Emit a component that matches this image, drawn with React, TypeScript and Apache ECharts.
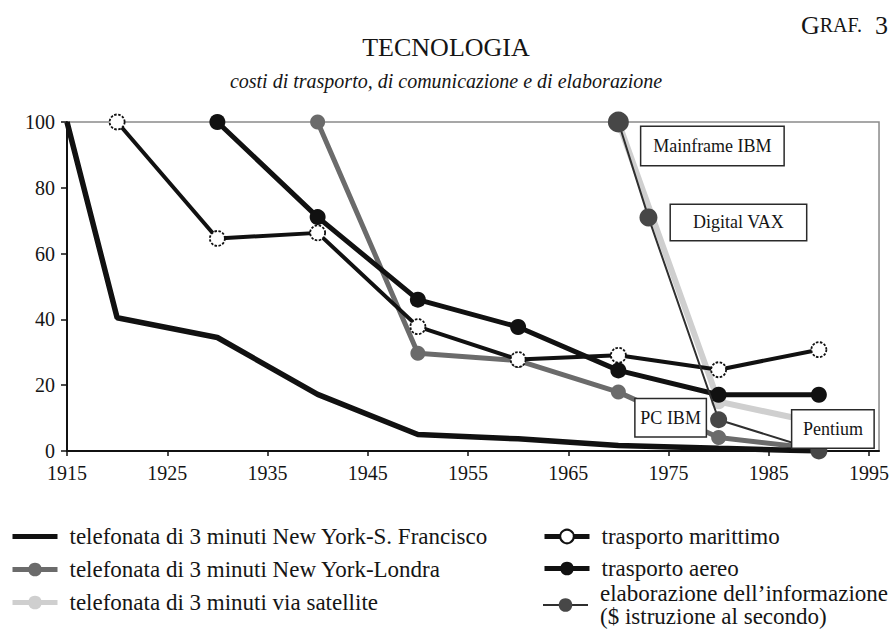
import React, { useEffect, useRef } from 'react';
import * as echarts from 'echarts';

// ---- data ----
const xTickValues = [1915, 1925, 1935, 1945, 1955, 1965, 1975, 1985, 1995];

const nySfYears = [1915, 1920, 1930, 1940, 1950, 1960, 1970, 1980, 1990];
const nySfValues = [100, 40.5, 34.5, 17.2, 5, 3.7, 1.7, 0.8, 0];

const londraYears = [1940, 1950, 1960, 1970, 1980, 1990];
const londraValues = [100, 29.7, 27.5, 17.9, 4.1, 0.6];

const satelliteYears = [1970, 1980, 1990];
const satelliteValues = [100, 15, 8.5];

const marittimoYears = [1920, 1930, 1940, 1950, 1960, 1970, 1980, 1990];
const marittimoValues = [100, 64.6, 66.3, 37.8, 27.8, 29.1, 24.7, 30.8];

const aereoYears = [1930, 1940, 1950, 1960, 1970, 1980, 1990];
const aereoValues = [100, 71.1, 46, 37.7, 24.5, 17.1, 17.1];

const elabYears = [1970, 1973, 1980, 1990];
const elabValues = [100, 71, 9.5, 0];
const elabLabels = ['Mainframe IBM', 'Digital VAX', 'PC IBM', 'Pentium'];

const seriesNames = [
  'telefonata di 3 minuti New York-S. Francisco',
  'telefonata di 3 minuti New York-Londra',
  'telefonata di 3 minuti via satellite',
  'trasporto marittimo',
  'trasporto aereo',
  'elaborazione dell\u2019informazione',
];
const elabSecondLine = '($ istruzione al secondo)';

// ---- styles ----
const FONT = "'Liberation Serif', 'DejaVu Serif', 'Times New Roman', serif";
const TEXT = '#151515';
const labelBoxes = [
  { offset: [94, 24], width: 142, height: 38, size: 21 },
  { offset: [90, 5], width: 135, height: 35, size: 18 },
  { offset: [-48, -2], width: 70, height: 37, size: 17 },
  { offset: [14, -22], width: 81, height: 37, size: 17 },
];

const pair = (xs: number[], ys: number[]) => xs.map((x, i) => [x, ys[i]]);

export default function App() {
  const ref = useRef<HTMLDivElement>(null);

  useEffect(() => {
    if (!ref.current) return;
    const chart = echarts.init(ref.current, null, { renderer: 'svg' });

    const legendText = {
      fontFamily: FONT,
      fontSize: 23,
      color: TEXT,
      lineHeight: 23,
      padding: [0, 0, 0, 7],
    };
    const legendCommon = {
      orient: 'vertical',
      padding: 0,
      itemWidth: 45,
      itemHeight: 17,
      textStyle: legendText,
    };

    const option: any = {
      animation: false,
      backgroundColor: '#ffffff',
      title: [
        {
          text: 'TECNOLOGIA',
          left: 'center',
          top: 34,
          padding: 0,
          textStyle: { fontFamily: FONT, fontSize: 26, fontWeight: 'normal', color: TEXT },
        },
        {
          text: 'costi di trasporto, di comunicazione e di elaborazione',
          left: 'center',
          top: 71,
          padding: 0,
          textStyle: { fontFamily: FONT, fontSize: 20, fontStyle: 'italic', fontWeight: 'normal', color: TEXT },
        },
      ],
      graphic: [
        {
          type: 'text',
          right: 4,
          top: 12,
          style: {
            text: '{a|G}{b|RAF.}{a|  3}',
            rich: {
              a: { fontFamily: FONT, fontSize: 26, fill: TEXT },
              b: { fontFamily: FONT, fontSize: 20, fill: TEXT },
            },
          },
        },
      ],
      grid: {
        left: 67,
        right: 10,
        top: 122,
        bottom: 178,
        show: true,
        borderColor: '#8a8a8a',
        borderWidth: 1.5,
        containLabel: false,
      },
      legend: [
        {
          ...legendCommon,
          itemGap: 10,
          data: [
            { name: seriesNames[0], itemStyle: { opacity: 0 }, lineStyle: { width: 5 } },
            { name: seriesNames[1], lineStyle: { width: 5 } },
            { name: seriesNames[2], lineStyle: { width: 5 } },
          ],
          left: 10,
          top: 525,
        },
        {
          ...legendCommon,
          itemGap: 9,
          data: [
            { name: seriesNames[3], lineStyle: { width: 5 } },
            { name: seriesNames[4], lineStyle: { width: 5 } },
          ],
          left: 542,
          top: 525,
        },
        {
          ...legendCommon,
          data: [{ name: seriesNames[5], lineStyle: { width: 2 } }],
          left: 542,
          top: 582,
          formatter: (n: string) => n + '\n' + elabSecondLine,
          textStyle: { ...legendText, lineHeight: 23 },
        },
      ],
      xAxis: {
        type: 'value',
        min: 1915,
        max: 1996,
        splitLine: { show: false },
        axisLine: { show: true, onZero: false, lineStyle: { color: '#111', width: 2 } },
        axisTick: { show: true, length: 5, customValues: xTickValues, lineStyle: { color: '#111', width: 1.5 } },
        axisLabel: {
          customValues: xTickValues,
          formatter: (v: number) => String(v),
          fontFamily: FONT,
          fontSize: 20,
          color: TEXT,
          margin: 12,
        },
      },
      yAxis: {
        type: 'value',
        min: 0,
        max: 100,
        interval: 20,
        splitLine: { show: false },
        axisLine: { show: true, lineStyle: { color: '#111', width: 2 } },
        axisTick: { show: true, length: 6, lineStyle: { color: '#111', width: 1.5 } },
        axisLabel: { fontFamily: FONT, fontSize: 20, color: TEXT, margin: 12 },
      },
      series: [
        {
          name: seriesNames[2],
          type: 'line',
          data: pair(satelliteYears, satelliteValues),
          symbol: 'circle',
          symbolSize: 15,
          lineStyle: { color: '#cfcfcf', width: 6 },
          itemStyle: { color: '#cfcfcf' },
          z: 2,
        },
        {
          name: seriesNames[1],
          type: 'line',
          data: pair(londraYears, londraValues),
          symbol: 'circle',
          symbolSize: 15,
          lineStyle: { color: '#6b6b6b', width: 5 },
          itemStyle: { color: '#6b6b6b' },
          z: 2,
        },
        {
          name: seriesNames[0],
          type: 'line',
          data: pair(nySfYears, nySfValues),
          symbol: 'none',
          lineStyle: { color: '#111', width: 5.5 },
          itemStyle: { color: '#111' },
          z: 2,
        },
        {
          name: seriesNames[3],
          type: 'line',
          data: pair(marittimoYears, marittimoValues),
          symbol: 'circle',
          symbolSize: 15,
          lineStyle: { color: '#111', width: 4 },
          itemStyle: { color: '#ffffff', borderColor: '#111', borderWidth: 1.8, borderType: [2.5, 1.5] },
          z: 2,
        },
        {
          name: seriesNames[4],
          type: 'line',
          data: pair(aereoYears, aereoValues),
          symbol: 'circle',
          symbolSize: 16,
          lineStyle: { color: '#111', width: 5 },
          itemStyle: { color: '#111' },
          z: 2,
        },
        {
          name: seriesNames[5],
          type: 'line',
          data: elabYears.map((x, i) => ({
            value: [x, elabValues[i]],
            symbolSize: labelBoxes[i].size,
            label: {
              show: true,
              formatter: elabLabels[i],
              position: 'inside',
              offset: labelBoxes[i].offset,
              width: labelBoxes[i].width,
              height: labelBoxes[i].height,
              lineHeight: labelBoxes[i].height,
              align: 'center',
              verticalAlign: 'middle',
              backgroundColor: '#ffffff',
              borderColor: '#2a2a2a',
              borderWidth: 1.5,
              padding: 0,
              fontFamily: FONT,
              fontSize: 18,
              color: TEXT,
            },
          })),
          symbol: 'circle',
          lineStyle: { color: '#2f2f2f', width: 2 },
          itemStyle: { color: '#474747' },
          z: 4,
        },
      ],
    };

    chart.setOption(option);
    return () => chart.dispose();
  }, []);

  return (
    <div
      ref={ref}
      style={{ position: 'fixed', left: 0, top: 0, width: 892, height: 629, background: '#fff' }}
    />
  );
}
